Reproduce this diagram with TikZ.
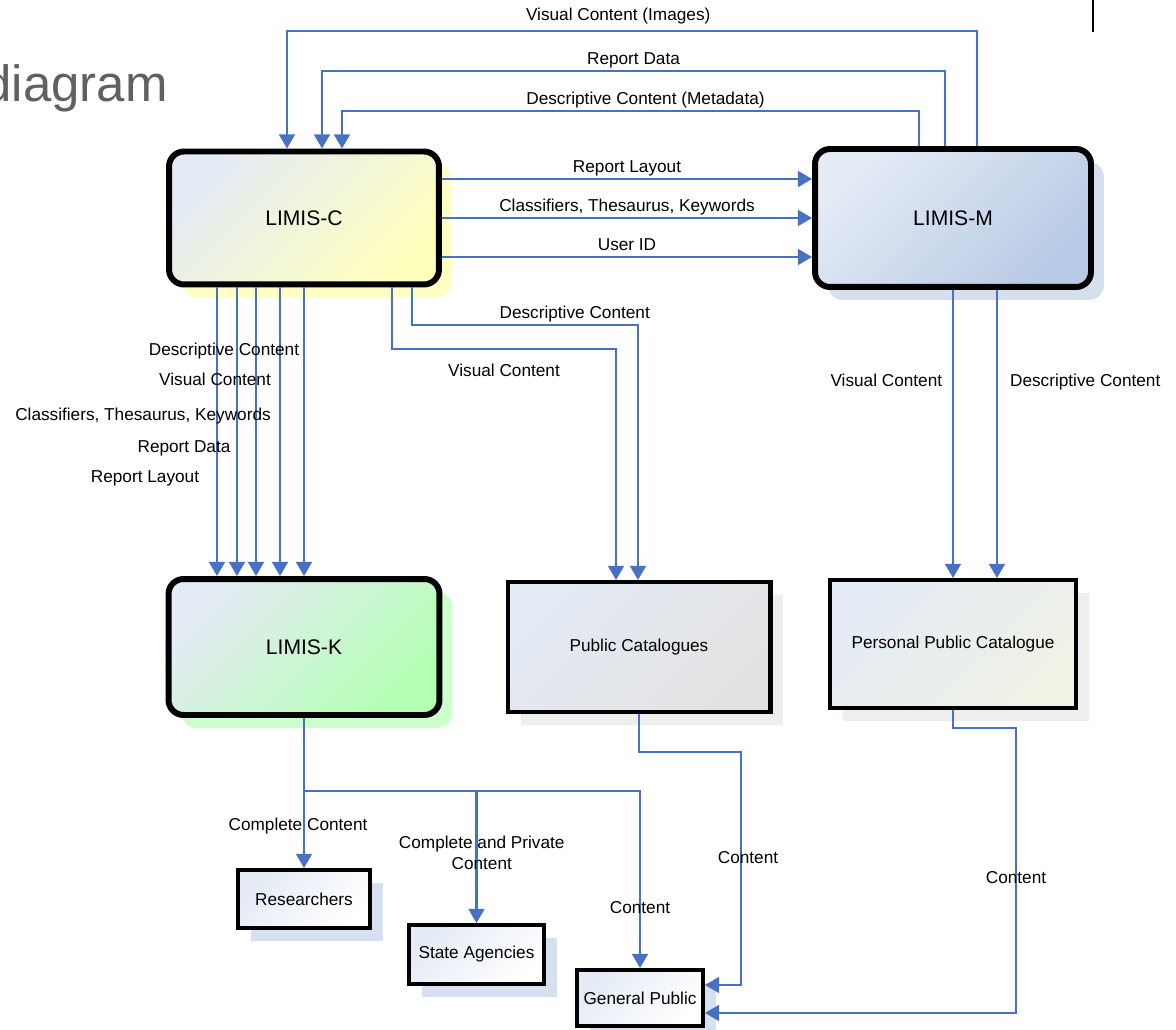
\documentclass[tikz,border=0pt]{standalone}
\usepackage{fontspec}
\setmainfont{Liberation Sans}
\usetikzlibrary{arrows.meta,calc,shadows}

\definecolor{flowblue}{RGB}{71,114,196}
\definecolor{titlegray}{RGB}{96,96,96}
\definecolor{tintblue}{RGB}{228,235,245}
\definecolor{yellowfill}{RGB}{255,255,190}
\definecolor{yellowshadow}{RGB}{255,255,196}
\definecolor{bluefill}{RGB}{184,202,229}
\definecolor{blueshadow}{RGB}{214,223,238}
\definecolor{greenfill}{RGB}{180,255,180}
\definecolor{greenshadow}{RGB}{204,255,204}
\definecolor{grayfill}{RGB}{226,226,226}
\definecolor{creamfill}{RGB}{240,242,230}
\definecolor{grayshadow}{RGB}{238,238,238}
\definecolor{usershadow}{RGB}{214,224,240}

\begin{document}
\begin{tikzpicture}[x=0.02cm, y=-0.02cm,
    flow/.style={draw=flowblue, line width=1.3pt, -{Triangle[width=9pt,length=8pt]}},
    lbl/.style={font=\fontsize{9.8}{11.9}\selectfont, inner sep=1pt, text height=7.2pt, text depth=2.1pt},
    lbltwo/.style={font=\fontsize{9.8}{11.9}\selectfont, inner sep=1pt, align=center},
    boxshade/.style 2 args={top color=#1, bottom color=#2, shading angle=45},
    boxshadow/.style={drop shadow={shadow xshift=0.26cm, shadow yshift=-0.26cm, fill=#1, opacity=1}},
    system/.style={draw, line width=3.4pt, rounded corners=0.3cm, font=\fontsize{12}{14}\selectfont},
    store/.style={draw, line width=2.3pt, font=\fontsize{9.8}{11.9}\selectfont},
    user/.style={store, boxshade={tintblue}{white}, boxshadow=usershadow}]
    \useasboundingbox (0,0) rectangle (1176,1030);

    % Title (cut at the left edge)
    \node[anchor=base east, inner sep=0pt, text=titlegray, font=\fontsize{29}{34}\selectfont] (title) at (168,102) {diagram};
    \draw[line width=1.1pt] (1093,0) -- (1093,32);

    % Systems
    \node[system, boxshade={tintblue}{yellowfill}, boxshadow=yellowshadow, minimum width=5.4cm, minimum height=2.66cm] (lc) at (304,218) {LIMIS-C};
    \node[system, boxshade={tintblue}{bluefill}, boxshadow=blueshadow, minimum width=5.52cm, minimum height=2.76cm] (lm) at (953,218) {LIMIS-M};
    \node[system, boxshade={tintblue}{greenfill}, boxshadow=greenshadow, minimum width=5.42cm, minimum height=2.72cm] (lk) at (304,647) {LIMIS-K};

    % Catalogues
    \node[store, boxshade={tintblue}{grayfill}, boxshadow=grayshadow, minimum width=5.26cm, minimum height=2.6cm] (pc) at (639,647) {Public Catalogues};
    \node[store, boxshade={tintblue}{creamfill}, boxshadow=grayshadow, minimum width=4.92cm, minimum height=2.56cm] (ppc) at (953,644) {Personal Public Catalogue};

    % Users
    \node[user, minimum width=2.64cm, minimum height=1.16cm] (rs) at (304,899) {Researchers};
    \node[user, minimum width=2.7cm, minimum height=1.18cm] (sa) at (476.5,954.5) {State Agencies};
    \node[user, minimum width=2.52cm, minimum height=1.12cm] (gp) at (640,998) {General Public};

    % LIMIS-M back to LIMIS-C
    \draw[flow] ($(lm.north)+(24,0)$) -- ++(0,-115) -| ($(lc.north)+(-17,0)$) node[lbl, pos=.26, above=2.5pt] (vci) {Visual Content (Images)};
    \draw[flow] ($(lm.north)+(-8,0)$) -- ++(0,-75) -| ($(lc.north)+(18,0)$) node[lbl, pos=.25, above] (rd) {Report Data};
    \draw[flow] ($(lm.north)+(-34,0)$) -- ++(0,-35) -| ($(lc.north)+(38,0)$) node[lbl, pos=.237, above] (dcm) {Descriptive Content (Metadata)};

    % LIMIS-C to LIMIS-M
    \draw[flow] ($(lc.east)+(0,-39)$) -- ($(lm.west)+(0,-39)$) node[lbl, midway, above] (rl) {Report Layout};
    \draw[flow] (lc.east) -- (lm.west) node[lbl, midway, above] (ctk) {Classifiers, Thesaurus, Keywords};
    \draw[flow] ($(lc.east)+(0,39)$) -- ($(lm.west)+(0,39)$) node[lbl, midway, above] (uid) {User ID};

    % LIMIS-C to LIMIS-K
    \foreach \dx/\lx/\ly/\txt [count=\i] in {-87/145/478/Report Layout, -67/184/448/Report Data, -48/143/416/{Classifiers, Thesaurus, Keywords}, -24/215/381/Visual Content, 0/224/351/Descriptive Content}
        \draw[flow] ($(lc.south)+(\dx,0)$) -- ($(lk.north)+(\dx,0)$) node[lbl] (ck\i) at (\lx,\ly) {\txt};

    % LIMIS-C to Public Catalogues
    \draw[flow] ($(lc.south)+(108,0)$) -- ++(0,37.5) -| ($(pc.north)+(-1,0)$) node[lbl, pos=.36, above] (dcp) {Descriptive Content};
    \draw[flow] ($(lc.south)+(88,0)$) -- ++(0,61.5) -| ($(pc.north)+(-23,0)$) node[lbl, pos=.25, below=7pt] (vcp) {Visual Content};

    % LIMIS-M to Personal Public Catalogue
    \draw[flow] (lm.south) -- (ppc.north) node[lbl, pos=.32, left=4.5pt] (vcm) {Visual Content};
    \draw[flow] ($(lm.south)+(44,0)$) -- ($(ppc.north)+(44,0)$) node[lbl, pos=.32, right=5.8pt] (dcpp) {Descriptive Content};

    % Catalogues to General Public
    \draw[flow] (pc.south) -- ++(0,38) -- ++(102,0) |- ($(gp.east)+(0,-13)$) node[lbl, pos=.23, xshift=4pt] (cpc) {Content};
    \draw[flow] (ppc.south) -- ++(0,18) -- ++(63,0) |- ($(gp.east)+(0,15)$) node[lbl, pos=.265] (cppc) {Content};

    % LIMIS-K to users
    \coordinate (split) at ($(lk.south)+(0,73)$);
    \draw[flow] (lk.south) -- (rs.north) node[lbl, pos=.72, xshift=-3.4pt] (cc) {Complete Content};
    \draw[flow] (split) -| (gp.north) node[lbl, pos=.833] (cgp) {Content};
    \draw[flow] (split -| sa.north) -- (sa.north) node[lbltwo, pos=.47, xshift=3pt] (cpr) {Complete and Private\\Content};
\end{tikzpicture}
\end{document}
